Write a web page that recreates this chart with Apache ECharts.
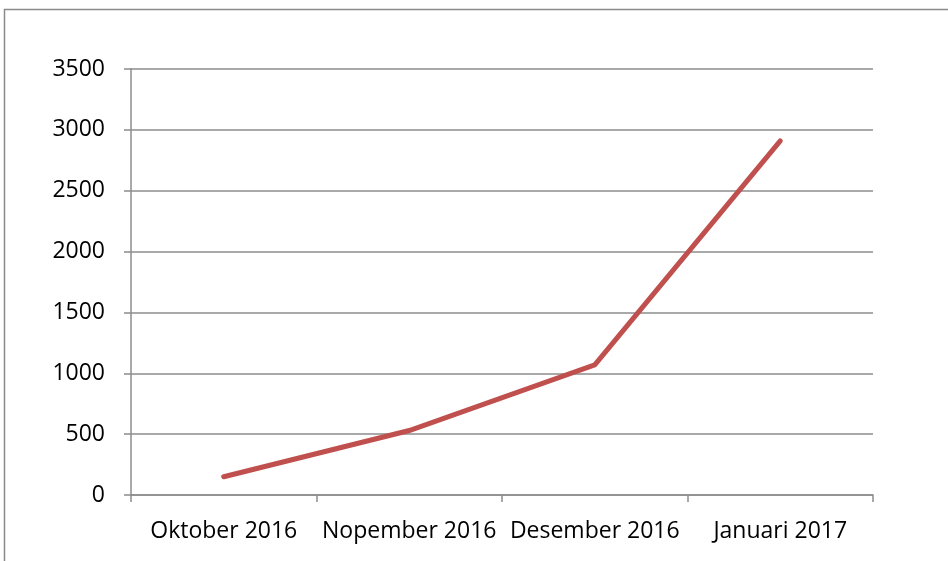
<!DOCTYPE html>
<html><head><meta charset="utf-8">
<script src="https://cdn.jsdelivr.net/npm/echarts@6/dist/echarts.min.js"></script>
<style>html,body{margin:0;padding:0;background:#fff}#c{width:948px;height:561px}</style>
</head><body><div id="c"></div>
<script>
const categories = ['Oktober 2016', 'Nopember 2016', 'Desember 2016', 'Januari 2017'];
const values = [150, 530, 1070, 2910];
const yTicks = [0, 500, 1000, 1500, 2000, 2500, 3000, 3500];

const chart = echarts.init(document.getElementById('c'));
const font = '"Open Sans", "Liberation Sans", sans-serif';
chart.setOption({
  animation: false,
  backgroundColor: '#fff',
  graphic: [{
    type: 'rect', shape: {x: 4.5, y: 9.5, width: 1000, height: 700},
    style: {fill: 'none', stroke: '#8a8a8a', lineWidth: 1.5}, silent: true
  }],
  grid: {left: 131, right: 75, top: 69, bottom: 66},
  xAxis: {
    type: 'category', data: categories, boundaryGap: true,
    axisLine: {lineStyle: {color: '#8c8c8c', width: 1.5}},
    axisTick: {show: true, length: 7, lineStyle: {color: '#8c8c8c', width: 1.5}},
    axisLabel: {color: '#000', fontFamily: font, fontSize: 23, margin: 25, interval: 0}
  },
  yAxis: {
    type: 'value', min: yTicks[0], max: yTicks[yTicks.length - 1], interval: 500,
    axisLine: {show: true, lineStyle: {color: '#8c8c8c', width: 1.5}},
    axisTick: {show: true, length: 7, lineStyle: {color: '#8c8c8c', width: 1.5}},
    splitLine: {lineStyle: {color: '#8c8c8c', width: 1.5}},
    axisLabel: {color: '#000', fontFamily: font, fontSize: 23, margin: 26,
      formatter: v => String(v)}
  },
  series: [{
    type: 'line', data: values, symbol: 'none',
    lineStyle: {color: '#C0504D', width: 5, cap: 'round', join: 'miter'}
  }]
});
</script></body></html>
